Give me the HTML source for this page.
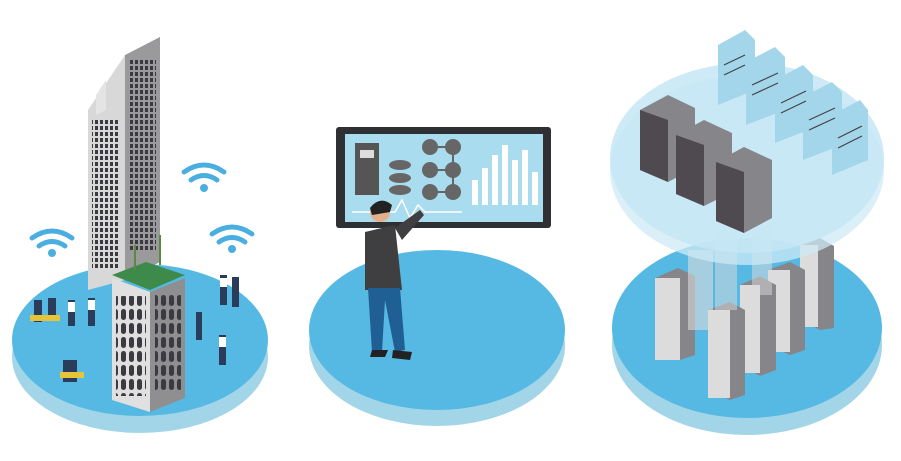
<!DOCTYPE html>
<html><head><meta charset="utf-8"><style>html,body{margin:0;padding:0;background:#fff}svg{display:block}</style></head>
<body>
<svg width="901" height="461" viewBox="0 0 901 461" xmlns="http://www.w3.org/2000/svg">
<defs>
<pattern id="win" width="5" height="6" patternUnits="userSpaceOnUse"><rect width="3" height="4" fill="#3a3a40"/></pattern>
<pattern id="win2" width="8" height="14" patternUnits="userSpaceOnUse"><rect x="1" y="1" width="5" height="11" rx="2.5" fill="#3a3a40"/></pattern>
</defs>
<!-- LEFT DISC -->
<ellipse cx="140" cy="357" rx="128" ry="76" fill="#a3d5e8"/>
<ellipse cx="140" cy="340" rx="128" ry="76" fill="#56b9e3"/>
<g fill="none" stroke="#4aaee0" stroke-width="5" stroke-linecap="round">
<path d="M184 172 Q204 158 224 172"/><path d="M191 180 Q204 171 217 180"/>
<path d="M32 238 Q52 224 72 238"/><path d="M39 246 Q52 237 65 246"/>
<path d="M212 234 Q232 220 252 234"/><path d="M219 242 Q232 233 245 242"/>
</g>
<circle cx="204" cy="188" r="4" fill="#4aaee0"/><circle cx="52" cy="253" r="4" fill="#4aaee0"/><circle cx="232" cy="249" r="4" fill="#4aaee0"/>
<!-- tall tower -->
<polygon points="88,110 125,55 125,280 88,290" fill="#d8d8d8"/>
<polygon points="125,55 160,37 160,262 125,280" fill="#9a9a9c"/>
<polygon points="96,95 106,80 106,110 96,115" fill="#e4e4e4"/>
<rect x="130" y="60" width="26" height="190" fill="url(#win)"/>
<rect x="92" y="120" width="28" height="150" fill="url(#win)"/>
<!-- lower building -->
<polygon points="112,275 146,262 185,275 150,290" fill="#3d8a4a"/>
<polygon points="112,278 150,292 150,412 112,400" fill="#e0e0e0"/>
<polygon points="150,292 185,278 185,398 150,412" fill="#8f8f92"/>
<rect x="116" y="296" width="30" height="100" fill="url(#win2)"/><rect x="155" y="294" width="26" height="96" fill="url(#win2)"/>
<g stroke="#5a8a3a" stroke-width="2"><line x1="135" y1="270" x2="135" y2="245"/><line x1="160" y1="265" x2="160" y2="235"/></g>
<g fill="#2b3b5a">
<rect x="34" y="300" width="8" height="22"/><rect x="48" y="298" width="8" height="22"/><rect x="68" y="300" width="7" height="26"/><rect x="88" y="298" width="7" height="28"/>
<rect x="220" y="275" width="7" height="30"/><rect x="232" y="277" width="7" height="30"/><rect x="196" y="312" width="6" height="28"/><rect x="219" y="335" width="7" height="30"/>
<rect x="63" y="360" width="14" height="22"/>
</g>
<g fill="#fff"><rect x="68" y="302" width="7" height="10"/><rect x="88" y="300" width="7" height="10"/><rect x="219" y="337" width="7" height="10"/><rect x="220" y="278" width="7" height="9"/></g>
<rect x="30" y="315" width="30" height="6" fill="#e6c43a"/><rect x="60" y="372" width="24" height="6" fill="#e6c43a"/>
<!-- MIDDLE DISC -->
<ellipse cx="437" cy="346" rx="128" ry="80" fill="#a3d5e8"/>
<ellipse cx="437" cy="330" rx="128" ry="80" fill="#56b9e3"/>
<rect x="336" y="127" width="215" height="101" rx="3" fill="#2f3033"/>
<rect x="345" y="134" width="198" height="88" fill="#a8dcee"/>
<rect x="355" y="143" width="24" height="52" fill="#555"/><rect x="360" y="150" width="14" height="8" fill="#ddd"/>
<ellipse cx="400" cy="165" rx="11" ry="5" fill="#666"/><ellipse cx="400" cy="178" rx="11" ry="5" fill="#666"/><ellipse cx="400" cy="190" rx="11" ry="5" fill="#666"/>
<g stroke="#666" stroke-width="2"><line x1="430" y1="147" x2="453" y2="147"/><line x1="430" y1="170" x2="453" y2="170"/><line x1="430" y1="192" x2="453" y2="192"/><line x1="453" y1="147" x2="453" y2="192"/></g>
<g fill="#666"><circle cx="430" cy="147" r="8"/><circle cx="453" cy="147" r="8"/><circle cx="430" cy="170" r="8"/><circle cx="453" cy="170" r="8"/><circle cx="430" cy="192" r="8"/><circle cx="453" cy="192" r="8"/></g>
<g fill="#fff"><rect x="472" y="180" width="6" height="25"/><rect x="482" y="168" width="6" height="37"/><rect x="492" y="155" width="6" height="50"/><rect x="502" y="145" width="6" height="60"/><rect x="512" y="160" width="6" height="45"/><rect x="522" y="150" width="6" height="55"/><rect x="532" y="172" width="6" height="33"/></g>
<polyline points="352,212 395,212 402,200 410,218 418,205 425,212 462,212" fill="none" stroke="#fff" stroke-width="1.5"/>
<polygon points="365,232 395,225 402,290 365,290" fill="#3f3f42"/>
<polygon points="395,228 420,210 424,215 402,240" fill="#3f3f42"/>
<circle cx="380" cy="212" r="10" fill="#e3b08a"/><path d="M370 208 Q380 195 392 205 L390 212 L372 215Z" fill="#222"/>
<polygon points="368,288 400,288 405,350 395,352 385,300 382,352 372,352" fill="#1f5f93"/>
<polygon points="372,350 388,350 385,357 370,357" fill="#222"/><polygon points="393,350 412,352 410,360 392,358" fill="#222"/>
<!-- RIGHT DISC -->
<ellipse cx="747" cy="345" rx="135" ry="90" fill="#a3d5e8"/>
<ellipse cx="747" cy="328" rx="135" ry="90" fill="#56b9e3"/>
<g>
<polygon points="655,278 678,268 695,276 695,355 680,360 655,348" fill="#85858a"/><rect x="655" y="278" width="25" height="82" fill="#dcdcdc"/>
<polygon points="800,245 820,238 834,246 834,328 820,330 800,320" fill="#85858a"/><rect x="800" y="245" width="18" height="82" fill="#dcdcdc"/>
<polygon points="768,270 790,262 805,270 805,350 790,355 768,345" fill="#85858a"/><rect x="768" y="270" width="22" height="82" fill="#dcdcdc"/>
<polygon points="740,285 760,276 776,285 776,370 760,376 740,365" fill="#85858a"/><rect x="740" y="285" width="20" height="88" fill="#dcdcdc"/>
<polygon points="708,310 730,302 745,310 745,395 730,400 708,390" fill="#85858a"/><rect x="708" y="310" width="22" height="88" fill="#dcdcdc"/>
<rect x="688" y="250" width="25" height="80" fill="#dcdcdc" opacity="0.6"/><rect x="715" y="230" width="22" height="80" fill="#dcdcdc" opacity="0.5"/><rect x="752" y="225" width="20" height="70" fill="#dcdcdc" opacity="0.5"/>
</g>
<ellipse cx="747" cy="170" rx="137" ry="95" fill="#cde9f5" opacity="0.75"/>
<ellipse cx="747" cy="158" rx="137" ry="95" fill="#c5e6f4" opacity="0.85"/>
<g fill="#a3d6ea">
<polygon points="718,45 745,30 755,40 755,90 718,105"/><polygon points="746,62 775,47 785,57 785,110 746,125"/><polygon points="775,80 803,65 813,75 813,128 775,143"/><polygon points="803,97 832,82 842,92 842,145 803,160"/><polygon points="832,115 860,100 868,110 868,160 832,175"/>
</g>
<g stroke="#444" stroke-width="1.2">
<line x1="724" y1="65" x2="745" y2="55"/><line x1="724" y1="75" x2="745" y2="65"/><line x1="752" y1="85" x2="778" y2="73"/><line x1="752" y1="95" x2="778" y2="83"/><line x1="781" y1="103" x2="806" y2="91"/><line x1="781" y1="113" x2="806" y2="101"/><line x1="809" y1="120" x2="835" y2="108"/><line x1="809" y1="130" x2="835" y2="118"/><line x1="838" y1="138" x2="862" y2="126"/><line x1="838" y1="148" x2="862" y2="136"/>
</g>
<g>
<polygon points="640,110 668,95 695,108 695,168 668,182 640,170" fill="#85858a"/><polygon points="640,110 668,120 668,182 640,170" fill="#4e4a50"/>
<polygon points="676,135 704,120 732,133 732,192 704,206 676,194" fill="#85858a"/><polygon points="676,135 704,145 704,206 676,194" fill="#4e4a50"/>
<polygon points="716,162 744,147 772,160 772,218 744,233 716,221" fill="#85858a"/><polygon points="716,162 744,172 744,233 716,221" fill="#4e4a50"/>
</g>
</svg>
</body></html>
